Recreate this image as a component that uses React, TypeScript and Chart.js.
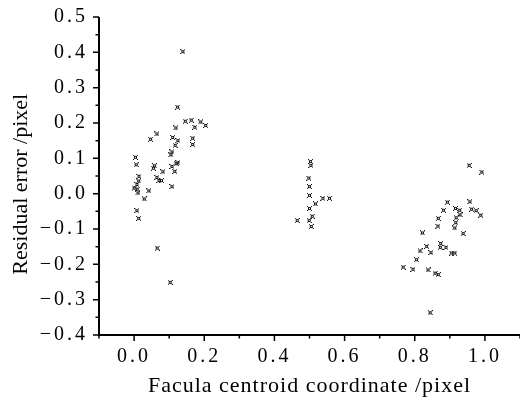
import React, { useEffect, useRef } from "react";
import { Chart, registerables } from "chart.js";

Chart.register(...registerables);

const X_VALUES: number[] = [
  0.124, 0.146, 0.163, 0.190, 0.204, 0.173, 0.119, 0.065, 0.047, 0.110,
  0.125, 0.167, 0.167, 0.117, 0.108, 0.105, 0.004, 0.006, 0.058, 0.055,
  0.082, 0.108, 0.120, 0.125, 0.116, 0.014, 0.065, 0.071, 0.078, 0.013,
  0.008, 0.000, 0.009, 0.108, 0.042, 0.011, 0.029, 0.008, 0.013, 0.066,
  0.103, 0.139,
  0.503, 0.504, 0.498, 0.500, 0.500, 0.538, 0.557, 0.517, 0.500, 0.508,
  0.499, 0.465, 0.505,
  0.955, 0.991, 0.893, 0.957, 0.882, 0.916, 0.928, 0.962, 0.975, 0.929,
  0.988, 0.918, 0.867, 0.917, 0.866, 0.914, 0.938, 0.822, 0.874, 0.873,
  0.889, 0.834, 0.815, 0.846, 0.905, 0.914, 0.805, 0.767, 0.795, 0.838,
  0.858, 0.867, 0.844,
];

const Y_VALUES: number[] = [
  0.245, 0.205, 0.208, 0.203, 0.193, 0.188, 0.186, 0.169, 0.154, 0.159,
  0.150, 0.157, 0.139, 0.137, 0.118, 0.110, 0.103, 0.082, 0.079, 0.072,
  0.062, 0.077, 0.085, 0.087, 0.063, 0.049, 0.046, 0.037, 0.037, 0.036,
  0.026, 0.016, 0.013, 0.020, 0.008, 0.002, -0.015, -0.048, -0.070, -0.154,
  -0.251, 0.402,
  0.091, 0.080, 0.044, 0.020, -0.005, -0.013, -0.013, -0.029, -0.042, -0.064,
  -0.076, -0.076, -0.093,
  0.080, 0.061, -0.024, -0.023, -0.047, -0.042, -0.047, -0.044, -0.048, -0.060,
  -0.061, -0.068, -0.070, -0.082, -0.092, -0.097, -0.113, -0.111, -0.141, -0.152,
  -0.152, -0.149, -0.162, -0.167, -0.168, -0.168, -0.187, -0.208, -0.214, -0.216,
  -0.225, -0.229, -0.337,
];

const X_TICKS: number[] = [0, 0.2, 0.4, 0.6, 0.8, 1.0];
const X_MINOR: number[] = [-0.1, 0.1, 0.3, 0.5, 0.7, 0.9, 1.1];
const Y_TICKS: number[] = [-0.4, -0.3, -0.2, -0.1, 0, 0.1, 0.2, 0.3, 0.4, 0.5];
const Y_MINOR: number[] = [-0.35, -0.25, -0.15, -0.05, 0.05, 0.15, 0.25, 0.35, 0.45];

const X_TITLE = "Facula centroid coordinate /pixel";
const Y_TITLE = "Residual error /pixel   ";

const FONT = "'Liberation Serif', 'Times New Roman', serif";

function makeMarker(): HTMLCanvasElement {
  const c = document.createElement("canvas");
  c.width = 5;
  c.height = 5;
  const g = c.getContext("2d")!;
  const pattern = ["x...x", ".xxx.", ".x.x.", ".xxx.", "x...x"];
  g.fillStyle = "#1a1a1a";
  pattern.forEach((row, r) => {
    for (let col = 0; col < row.length; col++) {
      if (row[col] === "x") g.fillRect(col, r, 1, 1);
    }
  });
  return c;
}

function fmt(v: number): string {
  const s = Math.abs(v).toFixed(1);
  return v < -1e-9 ? "\u2212" + s : s;
}

function wrapSpacing(scale: any, name: string, spacing: string) {
  const key = "__wrapped_" + name;
  if (scale[key]) return;
  const orig = scale[name];
  scale[name] = function (...args: any[]) {
    const ctx = scale.ctx;
    const prev = ctx.letterSpacing;
    ctx.letterSpacing = spacing;
    try {
      return orig.apply(scale, args);
    } finally {
      ctx.letterSpacing = prev;
    }
  };
  scale[key] = true;
}

const axesPlugin = {
  id: "axesPlugin",
  beforeDraw(chart: any) {
    wrapSpacing(chart.scales.x, "drawLabels", "3px");
    wrapSpacing(chart.scales.y, "drawLabels", "3px");
    wrapSpacing(chart.scales.x, "drawTitle", "1px");
  },
  afterDraw(chart: any) {
    const ctx = chart.ctx;
    const xs = chart.scales.x;
    const ys = chart.scales.y;
    const ax = chart.chartArea.left;
    const ay = chart.chartArea.bottom;
    const ar = chart.chartArea.right;
    const at = chart.chartArea.top;
    ctx.save();
    ctx.strokeStyle = "#000";
    ctx.lineWidth = 2;
    ctx.beginPath();
    ctx.moveTo(ax, at);
    ctx.lineTo(ax, ay);
    ctx.lineTo(ar, ay);
    ctx.stroke();
    ctx.lineWidth = 1.5;
    ctx.beginPath();
    Y_TICKS.forEach((v) => {
      const p = ys.getPixelForValue(v);
      ctx.moveTo(ax, p);
      ctx.lineTo(ax - 6, p);
    });
    X_TICKS.forEach((v) => {
      const p = xs.getPixelForValue(v);
      ctx.moveTo(p, ay);
      ctx.lineTo(p, ay + 6);
    });
    Y_MINOR.forEach((v) => {
      const p = ys.getPixelForValue(v);
      ctx.moveTo(ax, p);
      ctx.lineTo(ax - 3.5, p);
    });
    X_MINOR.forEach((v) => {
      const p = xs.getPixelForValue(v);
      ctx.moveTo(p, ay);
      ctx.lineTo(p, ay + 3.5);
    });
    ctx.stroke();
    ctx.restore();
  },
};

export default function App() {
  const ref = useRef<HTMLCanvasElement | null>(null);

  useEffect(() => {
    document.body.style.margin = "0";
    const marker = makeMarker();
    const points = X_VALUES.map((x, i) => ({ x, y: Y_VALUES[i] }));
    const chart = new Chart(ref.current!, {
      type: "scatter",
      data: {
        datasets: [
          {
            data: points,
            pointStyle: marker as any,
            pointRadius: 3,
            backgroundColor: "#222",
            borderColor: "#222",
          },
        ],
      },
      options: {
        animation: false,
        responsive: false,
        maintainAspectRatio: false,
        devicePixelRatio: 1,
        layout: { autoPadding: false, padding: { top: 17, right: -3, left: 0, bottom: 0 } },
        plugins: {
          legend: { display: false },
          tooltip: { enabled: false },
        },
        scales: {
          x: {
            type: "linear",
            min: -0.1,
            max: 1.1,
            afterBuildTicks: (s: any) => {
              s.ticks = X_TICKS.map((v) => ({ value: v }));
            },
            afterFit: (s: any) => {
              s.height = 70;
              s.paddingLeft = 0;
              s.paddingRight = 0;
            },
            border: { display: false },
            grid: { display: false, drawTicks: false },
            ticks: {
              color: "#000",
              font: { family: FONT, size: 20 },
              padding: 10,
              maxRotation: 0,
              autoSkip: false,
              callback: (v: any) => fmt(Number(v)),
            },
            title: {
              display: true,
              text: X_TITLE,
              color: "#000",
              font: { family: FONT, size: 22 },
              padding: { top: 0, bottom: 6 },
            },
          },
          y: {
            type: "linear",
            min: -0.4,
            max: 0.5,
            afterBuildTicks: (s: any) => {
              s.ticks = Y_TICKS.map((v) => ({ value: v }));
            },
            afterFit: (s: any) => {
              s.width = 99;
              s.paddingTop = 0;
              s.paddingBottom = 0;
            },
            border: { display: false },
            grid: { display: false, drawTicks: false },
            ticks: {
              color: "#000",
              font: { family: FONT, size: 20 },
              padding: 11,
              autoSkip: false,
              callback: (v: any) => fmt(Number(v)),
            },
            title: {
              display: true,
              text: Y_TITLE,
              color: "#000",
              font: { family: FONT, size: 22 },
              padding: { top: 8, bottom: 0 },
            },
          },
        },
      },
      plugins: [axesPlugin],
    });
    return () => chart.destroy();
  }, []);

  return (
    <div style={{ width: 520, height: 405, position: "relative" }}>
      <canvas ref={ref} width={520} height={405} style={{ width: 520, height: 405, display: "block" }} />
    </div>
  );
}
